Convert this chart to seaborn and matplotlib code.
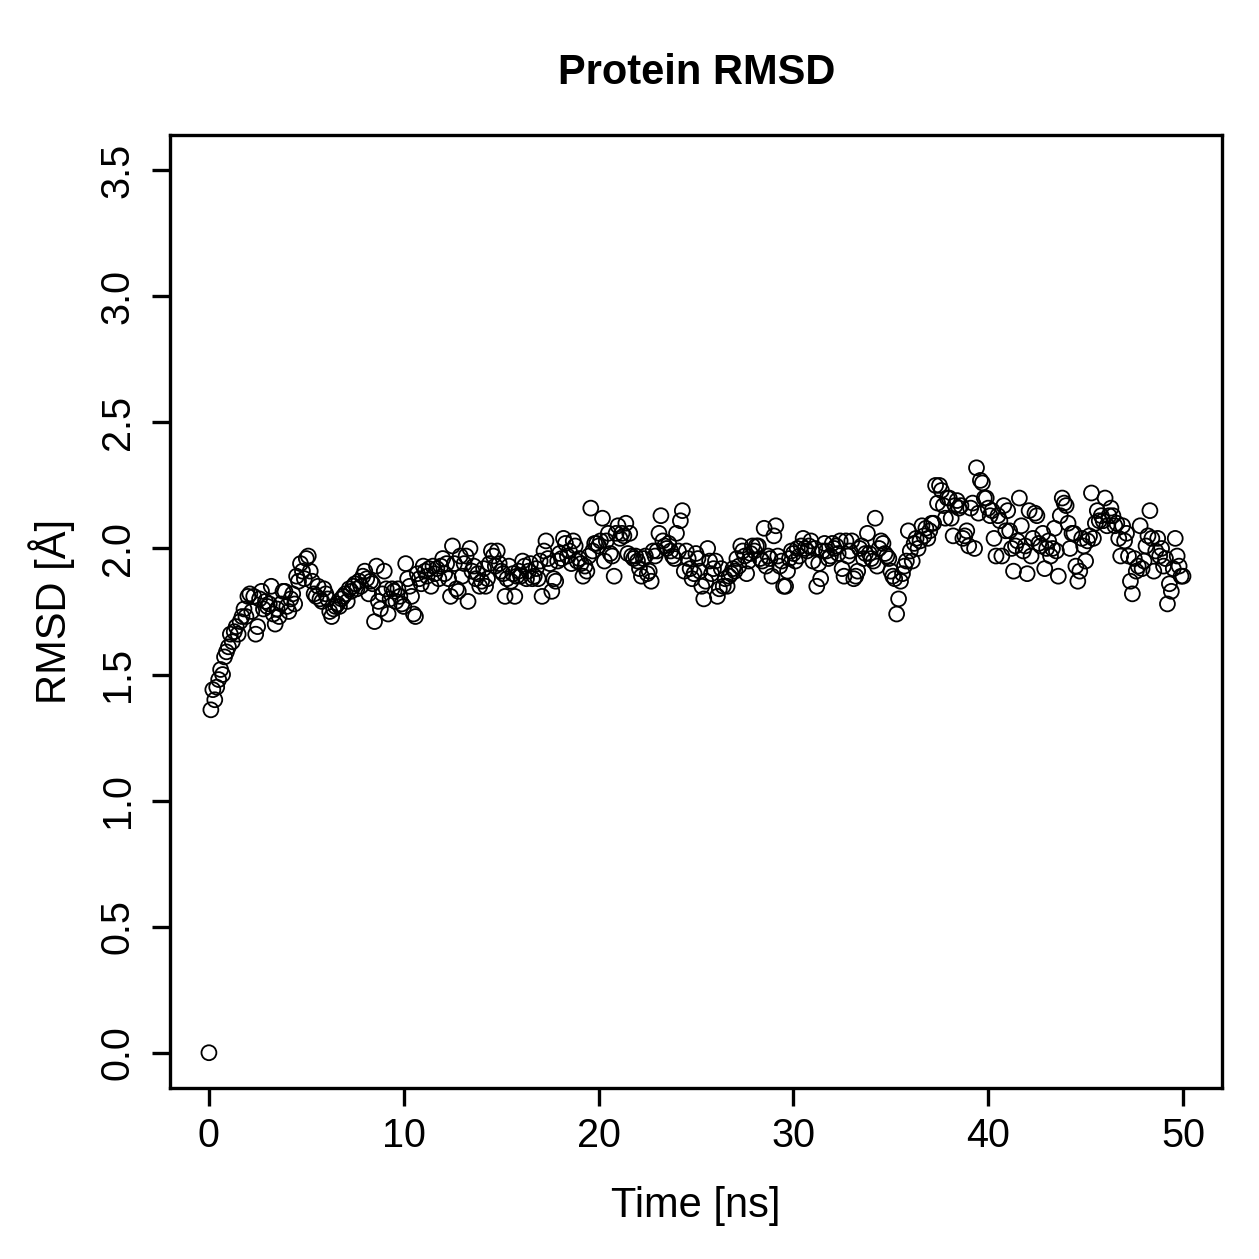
import matplotlib
matplotlib.use("Agg")
import numpy as np
import pandas as pd
import seaborn as sns
import matplotlib.pyplot as plt

# RMSD samples every 0.1 ns, one row per nanosecond
rmsd_rows = [
    [0.00, 1.36, 1.44, 1.40, 1.45, 1.48, 1.52, 1.50, 1.57, 1.59],  # 0 ns
    [1.61, 1.66, 1.63, 1.67, 1.69, 1.66, 1.71, 1.73, 1.76, 1.73],
    [1.81, 1.82, 1.75, 1.81, 1.66, 1.69, 1.80, 1.83, 1.76, 1.79],
    [1.77, 1.78, 1.85, 1.74, 1.70, 1.76, 1.73, 1.78, 1.83, 1.83],
    [1.77, 1.75, 1.80, 1.82, 1.78, 1.89, 1.87, 1.94, 1.91, 1.88],
    [1.96, 1.97, 1.91, 1.87, 1.82, 1.81, 1.85, 1.80, 1.79, 1.84],  # 5 ns
    [1.82, 1.80, 1.75, 1.73, 1.76, 1.77, 1.78, 1.77, 1.80, 1.81],
    [1.82, 1.79, 1.84, 1.83, 1.85, 1.86, 1.84, 1.87, 1.85, 1.89],
    [1.91, 1.88, 1.82, 1.87, 1.86, 1.71, 1.93, 1.79, 1.76, 1.82],
    [1.91, 1.84, 1.74, 1.80, 1.84, 1.83, 1.79, 1.84, 1.81, 1.78],
    [1.77, 1.94, 1.88, 1.85, 1.81, 1.74, 1.73, 1.90, 1.88, 1.86],  # 10 ns
    [1.93, 1.91, 1.89, 1.92, 1.85, 1.93, 1.90, 1.92, 1.88, 1.93],
    [1.96, 1.90, 1.94, 1.88, 1.81, 2.01, 1.94, 1.84, 1.83, 1.97],
    [1.89, 1.94, 1.97, 1.79, 2.00, 1.91, 1.93, 1.88, 1.90, 1.85],
    [1.87, 1.92, 1.85, 1.88, 1.94, 1.99, 1.97, 1.93, 1.99, 1.94],
    [1.91, 1.90, 1.81, 1.88, 1.93, 1.87, 1.90, 1.81, 1.89, 1.91],  # 15 ns
    [1.89, 1.95, 1.93, 1.88, 1.91, 1.94, 1.88, 1.89, 1.92, 1.88],
    [1.95, 1.81, 1.99, 2.03, 1.96, 1.94, 1.83, 1.88, 1.87, 1.95],
    [1.98, 1.96, 2.04, 2.02, 1.97, 1.99, 1.94, 2.03, 2.01, 1.95],
    [1.96, 1.94, 1.89, 1.93, 1.91, 1.97, 2.16, 1.99, 2.02, 2.02],
    [2.01, 2.03, 2.12, 1.95, 2.03, 2.06, 1.98, 1.97, 1.89, 2.06],  # 20 ns
    [2.09, 2.04, 2.06, 2.05, 2.10, 1.98, 2.06, 1.97, 1.96, 1.97],
    [1.95, 1.92, 1.89, 1.96, 1.97, 1.90, 1.91, 1.87, 1.99, 1.97],
    [1.99, 2.06, 2.13, 2.03, 2.01, 2.00, 2.02, 1.99, 1.97, 1.96],
    [2.06, 1.99, 2.11, 2.15, 1.91, 1.99, 1.96, 1.92, 1.88, 1.90],
    [1.98, 1.96, 1.91, 1.85, 1.80, 1.87, 2.00, 1.95, 1.90, 1.92],  # 25 ns
    [1.95, 1.81, 1.84, 1.92, 1.85, 1.88, 1.85, 1.89, 1.90, 1.92],
    [1.91, 1.96, 1.93, 2.01, 1.99, 1.97, 1.90, 1.95, 1.98, 2.01],
    [1.99, 2.01, 2.01, 1.96, 1.95, 2.08, 1.93, 1.97, 1.96, 1.89],
    [2.05, 2.09, 1.97, 1.93, 1.95, 1.85, 1.85, 1.91, 1.96, 1.99],
    [1.98, 1.95, 2.00, 1.97, 2.01, 2.04, 2.00, 1.99, 2.01, 2.03],  # 30 ns
    [1.95, 2.00, 1.85, 1.94, 1.88, 1.99, 2.02, 1.99, 1.96, 1.97],
    [2.02, 2.00, 2.01, 1.98, 2.03, 1.92, 1.89, 2.03, 1.97, 1.99],
    [2.03, 1.88, 1.89, 1.91, 2.00, 2.01, 1.96, 1.98, 2.06, 1.98],
    [1.96, 1.95, 2.12, 1.93, 2.00, 2.03, 2.02, 1.98, 1.97, 1.96],
    [1.91, 1.89, 1.88, 1.74, 1.80, 1.87, 1.90, 1.93, 1.95, 2.07],  # 35 ns
    [1.99, 1.95, 2.02, 2.04, 2.00, 2.03, 2.09, 2.05, 2.08, 2.04],
    [2.07, 2.10, 2.10, 2.25, 2.18, 2.25, 2.23, 2.17, 2.12, 2.20],
    [2.20, 2.12, 2.05, 2.17, 2.19, 2.16, 2.17, 2.04, 2.05, 2.07],
    [2.01, 2.16, 2.18, 2.00, 2.32, 2.14, 2.27, 2.26, 2.20, 2.20],
    [2.16, 2.13, 2.15, 2.04, 1.97, 2.13, 2.11, 1.97, 2.17, 2.07],  # 40 ns
    [2.15, 2.07, 2.00, 1.91, 2.01, 2.03, 2.20, 2.09, 1.99, 2.01],
    [1.90, 2.15, 1.97, 2.04, 2.14, 2.13, 2.02, 2.01, 2.06, 1.92],
    [2.00, 2.03, 1.97, 2.00, 2.08, 1.99, 1.89, 2.13, 2.20, 2.18],
    [2.17, 2.10, 2.00, 2.06, 2.06, 1.93, 1.87, 1.91, 2.04, 2.01],
    [1.95, 2.03, 2.05, 2.22, 2.04, 2.10, 2.15, 2.11, 2.13, 2.11],  # 45 ns
    [2.20, 2.09, 2.13, 2.16, 2.13, 2.09, 2.10, 2.04, 1.97, 2.09],
    [2.03, 2.06, 1.97, 1.87, 1.82, 1.96, 1.91, 1.93, 2.09, 1.92],
    [1.95, 2.01, 2.05, 2.15, 2.04, 1.91, 1.99, 2.04, 1.97, 2.00],
    [1.93, 1.96, 1.78, 1.86, 1.83, 1.92, 2.04, 1.97, 1.93, 1.89],
    [1.89],  # 50 ns
]
rmsd_vals = [v for row in rmsd_rows for v in row]
time_ns = [i / 10 for i in range(len(rmsd_vals))]

x_ticks = [0, 10, 20, 30, 40, 50]
y_ticks = [0.0, 0.5, 1.0, 1.5, 2.0, 2.5, 3.0, 3.5]

df = pd.DataFrame({"time": time_ns, "rmsd": rmsd_vals})

sns.set_style("ticks")
plt.rcParams["font.family"] = ["Liberation Sans", "DejaVu Sans"]
plt.rcParams["text.color"] = "black"
plt.rcParams["axes.labelcolor"] = "black"

fig = plt.figure(figsize=(12.59, 12.59), dpi=100)
ax = fig.add_axes([0.135, 0.1358, 0.8356, 0.757])

# open circles, like R's default pch=1
sns.scatterplot(data=df, x="time", y="rmsd", ax=ax, marker="o", s=115,
                facecolor="none", edgecolor="black", linewidth=1.3, legend=False)

ax.set_xlim(-2, 52)
ax.set_ylim(-0.14, 3.64)
ax.set_xticks(x_ticks)
ax.set_xticklabels([str(t) for t in x_ticks], fontsize=28.5)
ax.set_yticks(y_ticks)
ax.set_yticklabels(["%.1f" % t for t in y_ticks], fontsize=28.5,
                   rotation=90, va="center")

for sp in ax.spines.values():
    sp.set_linewidth(2.4)
    sp.set_color("black")
ax.tick_params(axis="both", direction="out", length=13, width=2.4, colors="black")
ax.tick_params(axis="x", pad=8)
ax.tick_params(axis="y", pad=11)

ax.set_xlabel("Time [ns]", fontsize=30, labelpad=22)
ax.set_ylabel("RMSD [Å]", fontsize=30, labelpad=17)
fig.suptitle("Protein RMSD", fontsize=30, fontweight="bold", x=0.553, y=0.958)

fig.savefig("out.png", dpi=100)
